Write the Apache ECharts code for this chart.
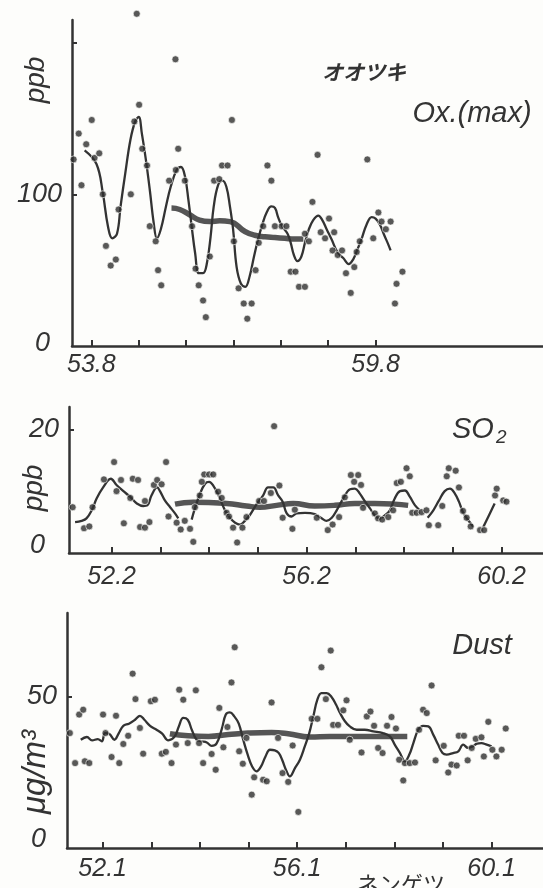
<!DOCTYPE html>
<html>
<head>
<meta charset="utf-8">
<script src="https://cdn.jsdelivr.net/npm/echarts@6/dist/echarts.min.js"></script>
<style>
  html, body { margin: 0; padding: 0; background: #fdfdfb; }
  #chart { width: 543px; height: 888px; }
</style>
</head>
<body>
<div id="chart"></div>
<script>
// x = month index: year*12 + (month-1), so "53.8" -> 643

// ---- Ox.(max) ----
const oxTicks = ['53.8', '54.8', '55.8', '56.8', '57.8', '58.8', '59.8'];
const oxLabels = ['53.8', '59.8'];
const oxDots = [
  [638.5, 123], [639.8, 140], [640.5, 106], [641.7, 133], [643.1, 149], [643.8, 124],
  [645.0, 127], [645.9, 100], [646.7, 66], [647.9, 53], [649.2, 57], [649.9, 90],
  [653.0, 100], [653.9, 148], [654.5, 219], [655.1, 159], [655.9, 130], [657.1, 119],
  [657.8, 79], [659.3, 69], [659.9, 50], [660.7, 40], [662.7, 109], [664.3, 189],
  [664.4, 116], [665.0, 130], [666.7, 109], [668.5, 79], [669.4, 51], [670.2, 40],
  [671.3, 30], [672.0, 19], [673.0, 59], [674.1, 109], [675.4, 110], [676.1, 119],
  [677.5, 119], [678.6, 149], [679.1, 69], [680.3, 38], [681.6, 28], [682.5, 18],
  [683.6, 28], [684.6, 50], [685.4, 68], [686.5, 79], [687.6, 119], [688.6, 109],
  [689.5, 79], [691.2, 79], [692.4, 79], [693.5, 49], [694.7, 49], [695.6, 39],
  [697.1, 39], [697.1, 74], [698.1, 69], [699.0, 95], [700.3, 126], [701.1, 75],
  [702.2, 71], [703.2, 84], [704.1, 63], [704.5, 75], [705.4, 60], [706.5, 63],
  [707.5, 48], [708.7, 35], [709.6, 52], [710.2, 62], [711.0, 69], [712.9, 123],
  [714.4, 71], [715.7, 88], [716.5, 82], [717.6, 77], [718.8, 82], [719.9, 28],
  [720.3, 41], [721.8, 49]
];
const oxFit = [
  [641.3, 129], [644.3, 120], [645.9, 101], [647.2, 79], [648.3, 71], [649.5, 74],
  [650.4, 92], [651.6, 114], [652.9, 136], [654.1, 148], [655.0, 151], [655.8, 140],
  [656.8, 123], [657.8, 103], [658.8, 81], [659.6, 71], [660.6, 77], [661.9, 92],
  [663.1, 105], [664.6, 116], [665.7, 118], [666.7, 112], [667.6, 96], [668.4, 79],
  [669.3, 61], [670.2, 48], [671.3, 48], [672.3, 55], [673.2, 72], [674.0, 92],
  [675.1, 106], [676.2, 109], [677.2, 105], [678.1, 92], [678.9, 77], [679.8, 52],
  [680.9, 41], [682.0, 39], [683.1, 46], [684.2, 59], [685.2, 70], [686.3, 80],
  [687.4, 88], [688.6, 92], [689.5, 91], [690.3, 85], [691.3, 79], [692.7, 74],
  [693.5, 68], [694.3, 60], [695.2, 56], [696.2, 59], [697.1, 68], [698.1, 77],
  [699.2, 83], [700.5, 86], [701.5, 83], [702.6, 77], [703.9, 70], [705.3, 62],
  [706.8, 58], [708.2, 54], [709.3, 57], [710.3, 63], [711.5, 71], [712.7, 80],
  [714.0, 85], [715.0, 84], [716.1, 80], [717.2, 73], [718.2, 67], [718.8, 63]
];
const oxTrend = [
  [663.3, 91], [665.4, 90], [667.9, 86.5], [670.4, 83], [673.0, 82], [675.5, 82.5],
  [678.1, 82], [681.9, 75.5], [684.4, 73], [687.0, 72], [689.5, 71.5], [692.0, 71],
  [694.5, 70.5], [696.7, 70.5]
];

// ---- SO2 ----
const so2Ticks = ['52.2', '53.2', '54.2', '55.2', '56.2', '57.2', '58.2', '59.2', '60.2'];
const so2Labels = ['52.2', '56.2', '60.2'];
const so2Dots = [
  [615.4, 7.4], [618.2, 4.0], [619.5, 4.3], [620.3, 7.4], [623.1, 11.9], [625.6, 14.7],
  [626.2, 10.0], [627.3, 11.8], [628.0, 4.8], [629.6, 8.9], [630.2, 12.0], [631.5, 11.8],
  [632.0, 4.2], [633.2, 4.1], [633.2, 8.4], [634.3, 5.0], [635.4, 11.0], [636.2, 11.8],
  [637.3, 11.1], [638.4, 14.7], [639.0, 5.9], [641.0, 4.9], [642.0, 3.8], [643.0, 5.2],
  [644.3, 3.9], [645.1, 1.8], [645.5, 7.4], [646.7, 9.3], [647.2, 11.5], [647.8, 12.7],
  [649.0, 12.7], [650.0, 12.7], [651.2, 9.9], [652.1, 8.9], [653.3, 6.5], [653.9, 5.9],
  [654.9, 4.1], [655.9, 1.7], [657.2, 4.1], [658.2, 5.8], [661.3, 8.4], [662.5, 8.4],
  [664.2, 9.7], [665.0, 20.5], [666.3, 10.9], [667.1, 5.7], [669.5, 3.9], [670.1, 7.0],
  [675.5, 5.7], [678.2, 3.7], [679.4, 4.6], [681.0, 5.8], [682.4, 9.0], [683.9, 12.6],
  [684.7, 11.5], [685.7, 12.6], [686.4, 11.0], [686.9, 7.3], [689.8, 6.4], [690.6, 5.6],
  [691.6, 5.4], [693.1, 5.8], [694.3, 6.9], [695.2, 11.3], [696.2, 11.5], [697.6, 13.7],
  [698.4, 12.4], [699.0, 6.5], [700.1, 6.5], [701.3, 6.6], [702.5, 6.9], [703.1, 4.5],
  [705.4, 4.5], [706.4, 7.6], [707.5, 12.4], [708.0, 13.7], [709.7, 13.3], [710.5, 10.6],
  [711.5, 6.8], [712.4, 5.7], [713.4, 4.3], [715.7, 3.7], [716.7, 3.7], [719.4, 9.3],
  [719.8, 10.4], [721.4, 8.5], [722.2, 8.3]
];
const so2Fit = [
  [616.0, 5.0], [617.6, 5.2], [618.8, 5.6], [620.1, 6.9], [621.3, 8.8], [622.9, 10.6],
  [624.8, 12.0], [626.2, 11.0], [627.9, 10.0], [629.5, 9.1], [631.2, 8.0], [632.8, 7.6],
  [633.8, 7.7], [634.8, 9.3], [636.2, 10.6], [636.9, 10.0], [638.1, 8.5], [639.4, 7.4],
  [640.6, 6.4], [641.4, 5.6], null,
  [644.7, 5.4], [645.5, 7.2], [646.7, 9.5], [648.0, 11.2], [649.0, 11.5], [650.2, 10.7],
  [651.2, 9.5], [652.9, 6.9], [654.1, 5.7], [655.4, 4.9], [656.6, 4.6], [657.8, 5.2],
  [659.0, 6.1], [660.7, 7.9], [662.3, 9.3], [663.5, 10.6], [664.8, 10.6], [666.0, 9.3],
  [667.1, 8.3], [668.1, 6.4], [669.3, 5.9], [670.5, 6.4], [672.6, 6.5], [675.0, 6.3],
  [676.7, 5.6], [677.9, 5.2], [679.2, 5.7], [680.4, 6.9], [682.0, 8.8], [683.7, 10.3],
  [684.9, 10.4], [686.1, 9.6], [687.2, 8.5], [688.6, 7.2], [689.8, 6.1], [691.0, 5.6],
  [692.3, 6.1], [693.5, 6.9], [694.7, 8.8], [696.0, 10.0], [697.2, 10.1], [698.4, 9.1],
  [699.7, 7.7], [700.9, 6.9], null,
  [702.8, 5.7], [704.2, 6.9], [705.6, 8.5], [707.0, 10.0], [708.3, 10.4], [709.5, 9.6],
  [710.5, 8.3], [711.5, 6.6], [712.8, 5.3], [714.0, 4.3], null,
  [716.5, 4.2], [718.5, 6.9], [719.3, 8.0]
];
const so2Trend = [
  [640.6, 7.9], [645.1, 8.2], [653.3, 8.0], [658.2, 7.6], [661.5, 7.4], [665.6, 7.7],
  [669.7, 8.0], [675.0, 7.6], [679.9, 7.7], [684.9, 8.0], [689.8, 8.0], [694.7, 7.9],
  [698.0, 7.7]
];

// ---- Dust ----
const dustTicks = ['52.1', '53.1', '54.1', '55.1', '56.1', '57.1', '58.1', '59.1', '60.1'];
const dustLabels = ['52.1', '56.1', '60.1'];
const dustDots = [
  [615.9, 37.9], [617.2, 28.0], [618.2, 44.0], [619.2, 45.6], [619.6, 28.6], [620.7, 28.0],
  [624.1, 44.0], [624.7, 37.9], [626.2, 30.0], [627.3, 43.6], [628.1, 28.0], [629.1, 34.3],
  [630.3, 37.0], [631.4, 57.5], [632.1, 49.1], [633.2, 39.6], [634.0, 31.1], [635.9, 48.4],
  [636.9, 48.9], [638.6, 31.1], [639.6, 31.7], [641.0, 28.0], [642.1, 34.1], [642.9, 52.2],
  [643.9, 48.9], [645.0, 34.6], [647.0, 52.0], [647.8, 34.6], [648.8, 28.0], [650.9, 31.0],
  [651.9, 25.8], [652.8, 46.2], [653.8, 33.2], [654.8, 39.9], [655.8, 54.6], [656.6, 66.2],
  [657.7, 31.9], [658.6, 27.8], [659.5, 36.3], [660.8, 17.6], [661.4, 23.3], [663.6, 22.5],
  [664.5, 22.0], [665.7, 48.0], [667.3, 36.3], [668.4, 24.7], [669.8, 21.8], [670.9, 33.8],
  [672.3, 11.9], [675.6, 42.6], [677.0, 42.6], [678.0, 59.6], [679.1, 49.1], [680.3, 65.1],
  [680.9, 40.6], [682.1, 40.6], [683.4, 45.4], [684.2, 48.7], [685.0, 35.7], [687.9, 31.5],
  [689.2, 43.4], [690.1, 45.0], [691.0, 40.3], [692.0, 33.0], [693.1, 31.3], [694.2, 40.3],
  [695.3, 43.2], [696.4, 39.4], [697.2, 29.1], [698.2, 22.3], [698.6, 28.0], [699.8, 28.0],
  [701.1, 28.2], [702.1, 39.0], [703.1, 45.6], [704.0, 44.5], [705.2, 53.6], [706.2, 28.9],
  [708.2, 33.7], [709.3, 24.9], [710.1, 27.5], [711.4, 27.2], [711.9, 37.0], [713.2, 37.0],
  [714.1, 28.9], [715.1, 33.0], [716.1, 36.0], [717.5, 36.5], [718.1, 30.2], [719.2, 41.6],
  [720.2, 32.4], [721.2, 30.2], [722.5, 32.4], [723.5, 39.4]
];
const dustFit = [
  [618.6, 35.7], [620.1, 36.6], [621.4, 35.5], [622.8, 35.9], [623.8, 35.2], [624.6, 37.9],
  [625.6, 37.7], [626.9, 35.7], [628.0, 37.9], [629.1, 40.3], [630.5, 41.0], [632.0, 42.3],
  [633.2, 43.6], [634.3, 42.3], [635.7, 40.3], [637.3, 39.0], [638.7, 37.7], [640.2, 35.5],
  [641.8, 36.8], [642.8, 40.1], [643.9, 42.9], [645.0, 42.3], [646.0, 39.0], [647.2, 35.7],
  [648.4, 35.2], [649.7, 34.8], [650.9, 33.7], [652.1, 34.4], [653.4, 39.2], [654.4, 44.0],
  [655.4, 44.7], [656.5, 43.4], [657.6, 41.0], [658.7, 35.7], [659.8, 30.8], [660.9, 26.9],
  [662.0, 25.3], [663.1, 26.9], [664.2, 30.2], [665.3, 32.4], [666.5, 32.2], [667.5, 31.3],
  [668.3, 29.1], [669.4, 25.3], [670.2, 23.6], [671.5, 26.4], [672.7, 29.1], [673.9, 33.5],
  [675.0, 37.9], [676.0, 43.4], [677.0, 48.9], [678.0, 51.1], [679.3, 51.1], [680.5, 49.8],
  [681.6, 47.3], [682.6, 44.5], [683.8, 41.8], [685.0, 40.1], [686.7, 39.0], [688.7, 39.0],
  [690.8, 38.5], [693.2, 37.9], [694.9, 36.8], [696.1, 34.1], [697.4, 31.3], [698.6, 28.6],
  [699.7, 30.8], [700.7, 34.6], [701.9, 39.0], [703.1, 40.3], [704.4, 40.1], [705.6, 37.4],
  [706.8, 34.1], [707.9, 31.3], [708.9, 30.8], [710.5, 31.3], [711.8, 31.9], [713.0, 34.1],
  [714.2, 33.0], [715.3, 33.5], [716.4, 34.4], [717.5, 34.6], [718.8, 34.1], [720.0, 33.5]
];
const dustTrend = [
  [640.6, 37.7], [645.1, 37.0], [650.1, 36.8], [655.0, 37.4], [659.9, 37.9], [665.7, 38.1],
  [669.8, 37.7], [675.2, 36.6], [680.1, 36.8], [685.1, 36.8], [690.0, 36.8], [694.9, 36.8],
  [699.2, 36.8]
];

function toMonth(s) {
  const p = s.split('.');
  return parseInt(p[0]) * 12 + parseInt(p[1]) - 1;
}
function monthLabel(v) {
  const m = Math.round(v);
  return Math.floor(m / 12) + '.' + (m % 12 + 1);
}

const ink = '#333333';
const font = 'Liberation Sans';

function xAxisFor(idx, min, max, ticks, labels, margin) {
  return {
    type: 'value', gridIndex: idx, min: min, max: max,
    splitLine: { show: false },
    axisLine: { lineStyle: { color: ink, width: 2.5 } },
    axisTick: { inside: true, length: 6, lineStyle: { color: ink, width: 2 },
      customValues: ticks.map(toMonth) },
    axisLabel: { customValues: labels.map(toMonth), formatter: monthLabel, margin: margin,
      color: ink, fontFamily: font, fontStyle: 'italic', fontSize: 25 }
  };
}
function yAxisFor(idx, max, ticks, labels, zeroPad) {
  return {
    type: 'value', gridIndex: idx, min: 0, max: max,
    splitLine: { show: false },
    axisLine: { lineStyle: { color: ink, width: 2.5 } },
    axisTick: { inside: true, length: 5, lineStyle: { color: ink, width: 2 }, customValues: ticks },
    axisLabel: {
      customValues: labels, margin: 10,
      formatter: v => v === 0 ? '{z|0}' : String(v),
      color: ink, fontFamily: font, fontStyle: 'italic', fontSize: 27,
      rich: { z: { color: ink, fontFamily: font, fontStyle: 'italic', fontSize: 27, padding: zeroPad } }
    }
  };
}
function panelSeries(idx, dots, fit, trend) {
  return [
    { type: 'line', xAxisIndex: idx, yAxisIndex: idx, data: trend, smooth: 0.5, symbol: 'none',
      lineStyle: { color: '#555555', width: 5.5 }, z: 2 },
    { type: 'line', xAxisIndex: idx, yAxisIndex: idx, data: fit, smooth: 0.4, symbol: 'none',
      connectNulls: false, lineStyle: { color: ink, width: 2.3 }, z: 3 },
    { type: 'scatter', xAxisIndex: idx, yAxisIndex: idx, data: dots, symbolSize: 7, clip: false,
      itemStyle: { color: '#2e2e2e', borderColor: '#fdfdfb', borderWidth: 0.8 }, z: 4 }
  ];
}

const chart = echarts.init(document.getElementById('chart'));
chart.setOption({
  backgroundColor: '#fdfdfb',
  animation: false,
  grid: [
    { left: 72, top: 20, width: 471, height: 326 },
    { left: 69, top: 407, width: 474, height: 146 },
    { left: 67, top: 613, width: 476, height: 235 }
  ],
  xAxis: [
    xAxisFor(0, 638.1, 757.4, oxTicks, oxLabels, 7),
    xAxisFor(1, 614.5, 731.2, so2Ticks, so2Labels, 12),
    xAxisFor(2, 615.2, 732.7, dustTicks, dustLabels, 9)
  ],
  yAxis: [
    yAxisFor(0, 214.9, [100, 200], [0, 100], [0, 12, 5, 0]),
    yAxisFor(1, 23.6, [20], [0, 20], [0, 14, 16, 0]),
    yAxisFor(2, 77.5, [50], [0, 50], [0, 11, 18, 0])
  ],
  series: [].concat(
    panelSeries(0, oxDots, oxFit, oxTrend),
    panelSeries(1, so2Dots, so2Fit, so2Trend),
    panelSeries(2, dustDots, dustFit, dustTrend)
  ),
  graphic: [
    { type: 'text', x: 364, y: 72, style: { text: 'オオツキ', fontFamily: 'Noto Sans CJK JP',
      fontWeight: 'bold', fontStyle: 'italic', fontSize: 21, fill: ink, align: 'center', verticalAlign: 'middle' } },
    { type: 'text', x: 472, y: 114, style: { text: 'Ox.(max)', fontFamily: font, fontStyle: 'italic',
      fontSize: 29, fill: ink, align: 'center', verticalAlign: 'middle' } },
    { type: 'text', x: 452, y: 430, style: { text: '{a|SO}{b|2}', align: 'left', verticalAlign: 'middle',
      rich: { a: { fontFamily: font, fontStyle: 'italic', fontSize: 29, fill: ink },
              b: { fontFamily: font, fontStyle: 'italic', fontSize: 19, fill: ink, padding: [15, 0, 0, 2] } } } },
    { type: 'text', x: 482, y: 646, style: { text: 'Dust', fontFamily: font, fontStyle: 'italic',
      fontSize: 29, fill: ink, align: 'center', verticalAlign: 'middle' } },
    { type: 'text', x: 36, y: 80, rotation: Math.PI / 2, style: { text: 'ppb', fontFamily: font,
      fontStyle: 'italic', fontSize: 28, fill: ink, align: 'center', verticalAlign: 'middle' } },
    { type: 'text', x: 34, y: 488, rotation: Math.PI / 2, style: { text: 'ppb', fontFamily: font,
      fontStyle: 'italic', fontSize: 28, fill: ink, align: 'center', verticalAlign: 'middle' } },
    { type: 'text', x: 36, y: 772, rotation: Math.PI / 2, style: { text: 'μg/m³', fontFamily: font,
      fontStyle: 'italic', fontSize: 33, fill: ink, align: 'center', verticalAlign: 'middle' } },
    { type: 'text', x: 401, y: 884, style: { text: 'ネンゲツ', fontFamily: 'Noto Sans CJK JP',
      fontSize: 22, fill: ink, align: 'center', verticalAlign: 'middle' } }
  ]
});
</script>
</body>
</html>
